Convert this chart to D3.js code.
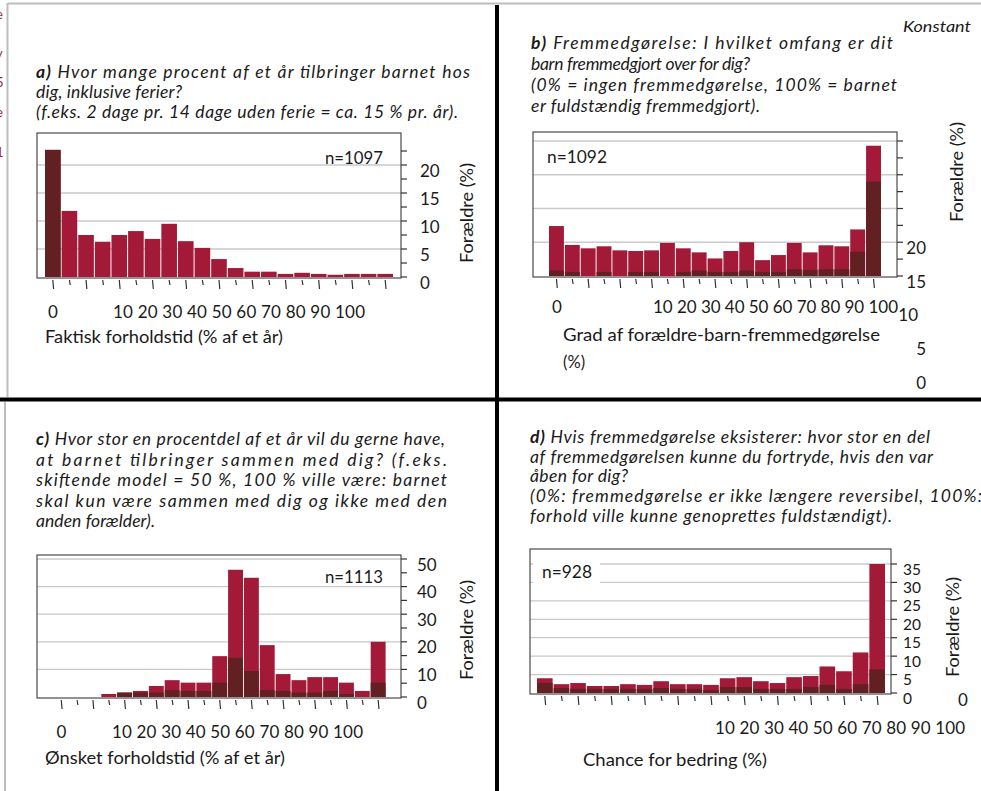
<!DOCTYPE html>
<html>
<head>
<meta charset="utf-8">
<script src="https://cdnjs.cloudflare.com/ajax/libs/d3/7.8.5/d3.min.js"></script>
<style>
  body { margin: 0; background: #fff; }
  svg { display: block; }
  text { font-family: Lato, "Open Sans", sans-serif; fill: #1a1a1a; }
</style>
</head>
<body>
<div id="chart"></div>
<script>

// histogram values (% of parents per bin), 21 bins each
var aTotal = [22.7, 11.8, 7.5, 6.3, 7.5, 8.2, 6.8, 9.5, 6.4, 5.2, 3.2, 1.6, 0.95, 0.95, 0.55, 0.75, 0.55, 0.4, 0.55, 0.55, 0.55];
var aDark  = [22.7, 0, 0, 0, 0, 0, 0, 0, 0, 0, 0, 0, 0, 0, 0, 0, 0, 0, 0, 0, 0];

var bTotal = [7.4, 4.6, 4.1, 4.4, 3.8, 3.7, 3.8, 4.9, 4.1, 3.5, 2.6, 3.7, 5.0, 2.35, 3.1, 4.9, 3.5, 4.55, 4.4, 6.9, 19.3];
var bDark  = [0.8, 0.6, 0, 0.6, 0, 0.6, 0.6, 0, 0.6, 0.8, 0.6, 0.6, 0.8, 0.6, 0.6, 1.0, 0.9, 1.0, 1.0, 3.6, 14.0];

var cTotal = [0, 0, 0, 1.1, 1.6, 2.2, 4.0, 6.1, 5.2, 5.2, 14.8, 46.1, 43.2, 18.8, 8.3, 6.1, 7.2, 7.2, 5.2, 2.2, 20.0];
var cDark  = [0, 0, 0, 0, 1.6, 1.6, 1.6, 2.5, 2.2, 2.2, 5.2, 14.2, 9.4, 2.5, 2.2, 1.6, 1.6, 2.2, 1.1, 0, 5.2];

var dTotal = [4.0, 2.4, 2.7, 1.9, 1.9, 2.4, 2.2, 3.2, 2.4, 2.4, 2.2, 4.0, 4.3, 3.2, 2.7, 4.3, 4.6, 7.2, 5.9, 11.0, 35.0];
var dDark  = [2.7, 1.35, 1.1, 1.1, 1.1, 1.1, 1.1, 1.35, 1.1, 1.1, 0.8, 1.6, 1.6, 1.1, 1.1, 1.1, 1.6, 2.2, 1.1, 2.4, 6.4];

// tick labels
var xTickLabels = ["10", "20", "30", "40", "50", "60", "70", "80", "90", "100"];
var aYTicks = [0, 5, 10, 15, 20];
var bYTicks = [20, 15, 10, 5, 0];
var cYTicks = [0, 10, 20, 30, 40, 50];
var dYTicks = [0, 5, 10, 15, 20, 25, 30, 35];

// texts
var aTitle = ["a) Hvor mange procent af et år tilbringer barnet hos", "dig, inklusive ferier?", "(f.eks. 2 dage pr. 14 dage uden ferie = ca. 15 % pr. år)."];
var bTitle = ["b) Fremmedgørelse: I hvilket omfang er dit", "barn fremmedgjort over for dig?", "(0% = ingen fremmedgørelse, 100% = barnet", "er fuldstændig fremmedgjort)."];
var cTitle = ["c) Hvor stor en procentdel af et år vil du gerne have,", "at barnet tilbringer sammen med dig? (f.eks.", "skiftende model = 50 %, 100 % ville være: barnet", "skal kun være sammen med dig og ikke med den", "anden forælder)."];
var dTitle = ["d) Hvis fremmedgørelse eksisterer: hvor stor en del", "af fremmedgørelsen kunne du fortryde, hvis den var", "åben for dig?", "(0%: fremmedgørelse er ikke længere reversibel, 100%:", "forhold ville kunne genoprettes fuldstændigt)."];
var xTitles = ["Faktisk forholdstid (% af et år)", "Grad af forældre-barn-fremmedgørelse", "Ønsket forholdstid (% af et år)", "Chance for bedring (%)"];
var nLabels = ["n=1097", "n=1092", "n=1113", "n=928"];
var yTitle = "Forældre (%)";

var crimson = "#A31A38";
var dark = "#632023";
var W = 981, H = 791;

var svg = d3.select("#chart").append("svg").attr("width", W).attr("height", H);

// page frame
svg.append("line").attr("x1", 8).attr("x2", W).attr("y1", 3.5).attr("y2", 3.5).attr("stroke", "#bdbdbd").attr("stroke-width", 2);
svg.append("line").attr("x1", 7.5).attr("x2", 7.5).attr("y1", 3).attr("y2", 397).attr("stroke", "#bdbdbd").attr("stroke-width", 2);
svg.append("line").attr("x1", 5).attr("x2", 5).attr("y1", 402).attr("y2", H).attr("stroke", "#bdbdbd").attr("stroke-width", 2);
svg.append("line").attr("x1", 497).attr("x2", 497).attr("y1", 5).attr("y2", H).attr("stroke", "#000").attr("stroke-width", 4);
svg.append("line").attr("x1", 0).attr("x2", W).attr("y1", 399.5).attr("y2", 399.5).attr("stroke", "#000").attr("stroke-width", 4);

// cut-off letters at the left edge
[["e", 19], ["y", 58], ["5", 87], ["e", 117], ["1", 157]].forEach(function (d) {
  svg.append("text").attr("x", -4).attr("y", d[1]).text(d[0])
    .style("font-size", "13px").style("fill", crimson);
});

svg.append("text").attr("x", 903).attr("y", 32).text("Konstant")
  .attr("textLength", 68).attr("lengthAdjust", "spacingAndGlyphs")
  .style("font-size", "16px").style("font-style", "italic");

function title(lines, x, y0, step, widths) {
  lines.forEach(function (s, i) {
    var t = svg.append("text").attr("x", x).attr("y", y0 + i * step)
      .attr("xml:space", "preserve")
      .style("font-size", "17.5px").style("font-style", "italic");
    if (i === 0) {
      var sp = s.indexOf(" ");
      t.append("tspan").style("font-weight", "bold").text(s.slice(0, sp));
      t.append("tspan").text(s.slice(sp));
    } else {
      t.text(s);
    }
    if (widths[i]) t.attr("textLength", widths[i]).attr("lengthAdjust", "spacing");
  });
}

title(aTitle, 36, 78, 20, [434, 146, 422]);
title(bTitle, 531, 49, 21, [362, 219, 366, 229]);
title(cTitle, 36, 445, 20.5, [409, 411, 411, 411, 119]);
title(dTitle, 530, 443, 19.7, [400, 403, 98, 452, 362]);

function panel(p) {
  var g = svg.append("g");
  var x = d3.scaleBand().domain(d3.range(p.total.length)).range(p.barRange).paddingInner(0.06);
  var y = d3.scaleLinear().domain(p.yDomain).range([p.y1 - 1, p.yTop]);

  // gridlines
  g.selectAll(".grid").data(p.grid).enter().append("line")
    .attr("x1", p.x0).attr("x2", p.x1)
    .attr("y1", d => y(d)).attr("y2", d => y(d))
    .attr("stroke", "#cacaca").attr("stroke-width", 1.3);

  if (p.nBox) {
    g.append("rect").attr("x", p.x0 + 3).attr("y", p.y0 + 12).attr("width", 67).attr("height", 26).attr("fill", "#fff");
  }

  g.selectAll(".bar").data(p.total).enter().append("rect")
    .attr("x", (d, i) => x(i)).attr("width", x.bandwidth())
    .attr("y", d => y(d)).attr("height", d => y(0) - y(d))
    .attr("fill", crimson);

  g.selectAll(".dark").data(p.dark).enter().append("rect")
    .attr("x", (d, i) => x(i)).attr("width", x.bandwidth())
    .attr("y", d => y(d)).attr("height", d => y(0) - y(d))
    .attr("fill", dark);

  // frame
  g.append("rect").attr("x", p.x0).attr("y", p.y0)
    .attr("width", p.x1 - p.x0).attr("height", p.y1 - p.y0)
    .attr("fill", "none").attr("stroke", "#4a4a4a").attr("stroke-width", 1.2);

  // x ticks at bin centres
  g.selectAll(".xt").data(p.total).enter().append("line")
    .attr("x1", (d, i) => x(i) + x.bandwidth() / 2)
    .attr("x2", (d, i) => x(i) + x.bandwidth() / 2 + 0.8)
    .attr("y1", p.y1 + 2).attr("y2", (d, i) => p.y1 + (i % 2 ? 7 : 11))
    .attr("stroke", "#333").attr("stroke-width", 1.2);

  // y ticks on the right
  g.selectAll(".yt").data(p.yTickVals).enter().append("line")
    .attr("x1", p.x1).attr("x2", p.x1 + 6)
    .attr("y1", d => y(d)).attr("y2", d => y(d))
    .attr("stroke", "#333").attr("stroke-width", 1.2);

  g.selectAll(".yl").data(p.yLabels).enter().append("text")
    .attr("x", d => p.yLabelX(d))
    .attr("y", d => y(p.yLabelPos(d)))
    .attr("dy", "0.68em")
    .attr("text-anchor", p.yAnchor)
    .style("font-size", p.yFont || "17px")
    .text(d => d);

  g.append("text")
    .attr("transform", "translate(" + p.yTitle[0] + "," + p.yTitle[1] + ") rotate(-90)")
    .attr("text-anchor", "middle").attr("dy", "0.35em")
    .attr("textLength", 100).attr("lengthAdjust", "spacingAndGlyphs")
    .style("font-size", "17px")
    .text(yTitle);

  // x tick labels: 0 on its own, the rest run together as one line
  g.append("text").attr("x", p.zeroPos[0]).attr("y", p.zeroPos[1])
    .attr("text-anchor", "middle").style("font-size", "17px").text("0");
  g.append("text").attr("x", p.labelSpan[0]).attr("y", p.labelY)
    .attr("xml:space", "preserve")
    .attr("textLength", p.labelSpan[1] - p.labelSpan[0]).attr("lengthAdjust", "spacing")
    .style("font-size", "17px")
    .text(xTickLabels.join(" "));

  p.xTitle.forEach(function (s, i) {
    var t = g.append("text").attr("x", p.xTitlePos[0]).attr("y", p.xTitlePos[1] + i * 27)
      .style("font-size", "16.5px").text(s);
    if (i === 0 && p.xTitleLen) t.attr("textLength", p.xTitleLen).attr("lengthAdjust", "spacingAndGlyphs");
  });

  g.append("text").attr("x", p.nPos[0]).attr("y", p.nPos[1])
    .attr("textLength", p.nLen).attr("lengthAdjust", "spacingAndGlyphs")
    .style("font-size", "17px").text(p.n);
}

panel({
  total: aTotal, dark: aDark, x0: 37, x1: 401, y0: 133, y1: 278, yTop: 137,
  barRange: [45, 393], yDomain: [0, 25], grid: [5, 10, 15, 20],
  yTickVals: d3.range(0, 23, 2.5), yLabels: aYTicks,
  yLabelPos: d => d, yLabelX: () => 420, yAnchor: "start",
  yTitle: [467, 213], zeroPos: [53, 318], labelSpan: [113, 365], labelY: 318,
  xTitle: [xTitles[0]], xTitlePos: [45, 343], xTitleLen: 238,
  nPos: [325, 164], nLen: 58, n: nLabels[0]
});

panel({
  total: bTotal, dark: bDark, x0: 533, x1: 897, y0: 132, y1: 277, yTop: 141,
  barRange: [549, 881], yDomain: [0, 20], grid: [5, 10, 15, 20],
  yTickVals: d3.range(0, 21, 2.5), yLabels: bYTicks,
  yLabelPos: d => d - 15, yLabelX: d => d === 10 ? 918 : 926, yAnchor: "end",
  yTitle: [957, 172], zeroPos: [557, 313], labelSpan: [653, 898], labelY: 313,
  xTitle: [xTitles[1], "(%)"], xTitlePos: [563, 341], xTitleLen: 317,
  nPos: [547, 163], nLen: 60, n: nLabels[1]
});

panel({
  total: cTotal, dark: cDark, x0: 37, x1: 401, y0: 555, y1: 698, yTop: 559,
  barRange: [53.8, 385.6], yDomain: [0, 50], grid: [10, 20, 30, 40, 50],
  yTickVals: d3.range(0, 51, 5), yLabels: cYTicks,
  yLabelPos: d => d, yLabelX: () => 417, yAnchor: "start",
  yTitle: [467, 630], zeroPos: [61.5, 738], labelSpan: [112, 363], labelY: 738,
  xTitle: [xTitles[2]], xTitlePos: [45, 764], xTitleLen: 240,
  nPos: [325, 583], nLen: 58, n: nLabels[2]
});

panel({
  total: dTotal, dark: dDark, x0: 530, x1: 891, y0: 549, y1: 694, yTop: 564,
  barRange: [537, 885], yDomain: [0, 35], grid: [5, 10, 15, 20, 25, 30, 35],
  yTickVals: d3.range(0, 36, 5), yLabels: dYTicks, yFont: "15.5px",
  yLabelPos: d => d, yLabelX: () => 903, yAnchor: "start",
  yTitle: [953, 627], zeroPos: [963, 706], labelSpan: [715, 965], labelY: 734,
  xTitle: [xTitles[3]], xTitlePos: [583, 766], xTitleLen: 184,
  nPos: [542, 578], nLen: 50, n: nLabels[3], nBox: true
});

</script>
</body>
</html>
